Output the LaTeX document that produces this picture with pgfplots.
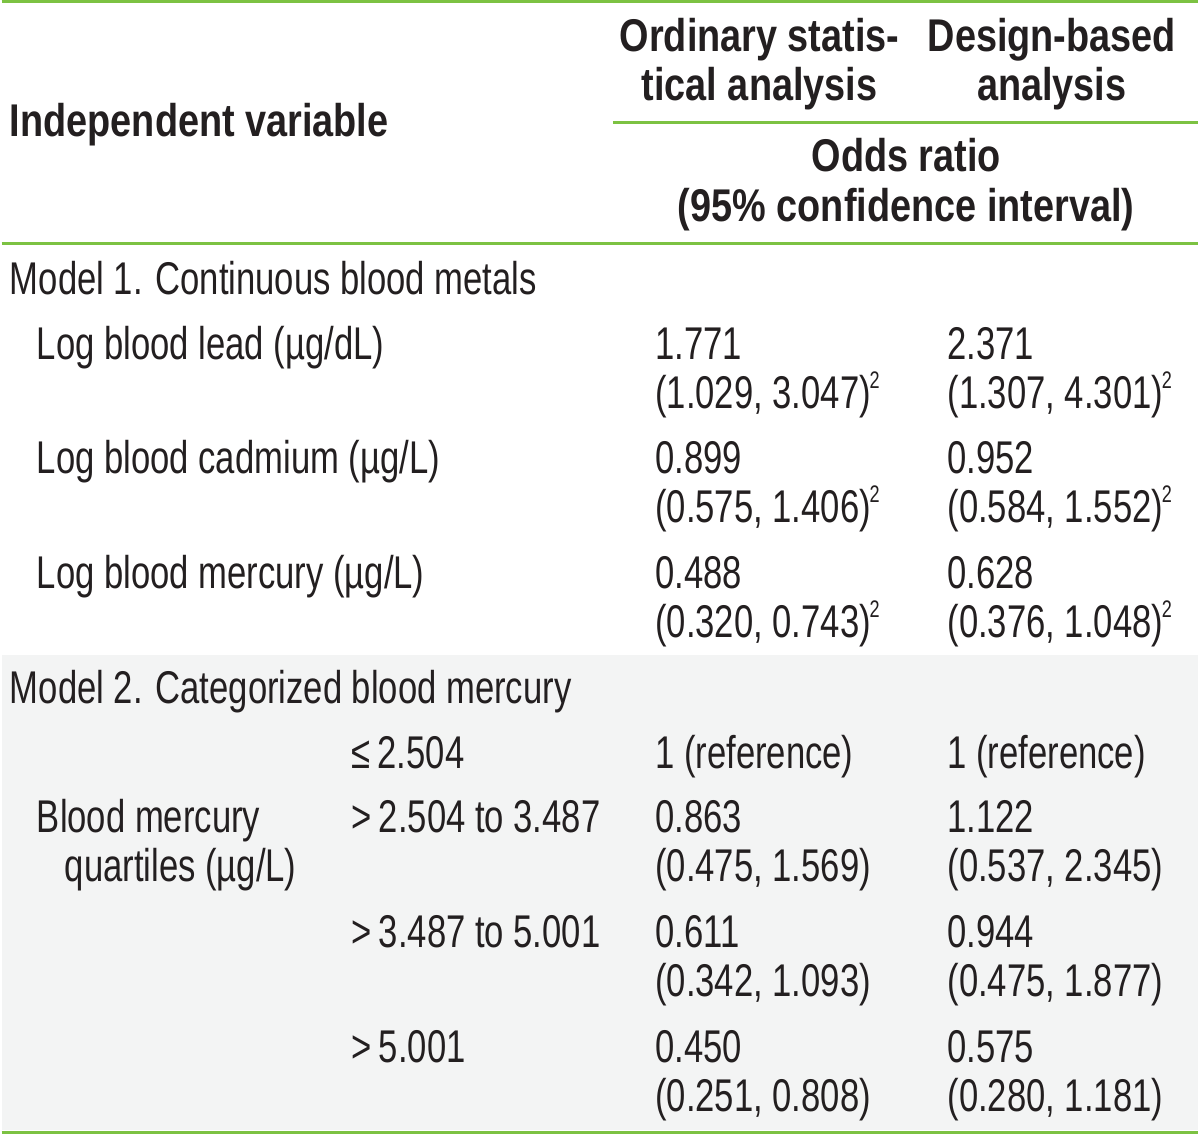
\documentclass[border=0pt]{standalone}
\usepackage{pgfplots}
\pgfplotsset{compat=1.18}
\usepackage{fontspec}
\setmainfont{Liberation Sans}[FakeStretch=0.755, BoldFeatures={FakeStretch=0.825}]
\definecolor{tgreen}{RGB}{124,194,66}
\definecolor{tgray}{RGB}{243,244,244}
\definecolor{ink}{RGB}{35,31,32}
\newcommand{\supt}{\kern-0.6pt\raisebox{0.82ex}{\fontsize{12}{12}\selectfont 2}}
\begin{document}
\begin{tikzpicture}
\begin{axis}[scale only axis, width=600pt, height=568.5pt,
  xmin=0, xmax=1200, ymin=0, ymax=1137, y dir=reverse,
  hide axis, clip=false]
\fill[white] (axis cs:0,0) rectangle (axis cs:1200,1137);
\fill[tgray] (axis cs:0,657) rectangle (axis cs:1200,1133);
\draw[tgreen, line width=1.6pt] (axis cs:0,1.5) -- (axis cs:1200,1.5);
\draw[tgreen, line width=1.3pt] (axis cs:613,122.5) -- (axis cs:1200,122.5);
\draw[tgreen, line width=1.3pt] (axis cs:0,244) -- (axis cs:1200,244);
\draw[tgreen, line width=1.6pt] (axis cs:0,1135) -- (axis cs:1200,1135);
\tikzset{
  L/.style={anchor=base west, inner sep=0pt, text=ink, font=\fontsize{23}{25}\selectfont},
  H/.style={anchor=base, inner sep=0pt, text=ink, font=\fontsize{23}{25}\selectfont\bfseries}}
% header
\node[H] at (axis cs:760,52) {Ordinary statis-};
\node[H] at (axis cs:760,101) {tical analysis};
\node[H] at (axis cs:1053,52) {Design-based};
\node[H] at (axis cs:1053,101) {analysis};
\node[H] at (axis cs:907,172) {Odds ratio};
\node[H] at (axis cs:907,222) {(95\% confidence interval)};
\node[H, anchor=base west] at (axis cs:8,137) {Independent variable};
% model 1
\node[L] at (axis cs:8,295) {Model 1. Continuous blood metals};
\node[L] at (axis cs:35,360) {Log blood lead (µg/dL)};
\node[L] at (axis cs:655,360) {1.771};
\node[L] at (axis cs:655,409) {(1.029, 3.047)\supt};
\node[L] at (axis cs:948,360) {2.371};
\node[L] at (axis cs:948,409) {(1.307, 4.301)\supt};
\node[L] at (axis cs:35,475) {Log blood cadmium (µg/L)};
\node[L] at (axis cs:655,475) {0.899};
\node[L] at (axis cs:655,524) {(0.575, 1.406)\supt};
\node[L] at (axis cs:948,475) {0.952};
\node[L] at (axis cs:948,524) {(0.584, 1.552)\supt};
\node[L] at (axis cs:35,590) {Log blood mercury (µg/L)};
\node[L] at (axis cs:655,590) {0.488};
\node[L] at (axis cs:655,639) {(0.320, 0.743)\supt};
\node[L] at (axis cs:948,590) {0.628};
\node[L] at (axis cs:948,639) {(0.376, 1.048)\supt};
% model 2
\node[L] at (axis cs:8,705) {Model 2. Categorized blood mercury};
\node[L] at (axis cs:350,770) {≤\,2.504};
\node[L] at (axis cs:655,770) {1 (reference)};
\node[L] at (axis cs:948,770) {1 (reference)};
\node[L] at (axis cs:35,835) {Blood mercury};
\node[L] at (axis cs:63,884) {quartiles (µg/L)};
\node[L] at (axis cs:350,835) {>\,2.504 to 3.487};
\node[L] at (axis cs:655,835) {0.863};
\node[L] at (axis cs:655,884) {(0.475, 1.569)};
\node[L] at (axis cs:948,835) {1.122};
\node[L] at (axis cs:948,884) {(0.537, 2.345)};
\node[L] at (axis cs:350,950) {>\,3.487 to 5.001};
\node[L] at (axis cs:655,950) {0.611};
\node[L] at (axis cs:655,999) {(0.342, 1.093)};
\node[L] at (axis cs:948,950) {0.944};
\node[L] at (axis cs:948,999) {(0.475, 1.877)};
\node[L] at (axis cs:350,1065) {>\,5.001};
\node[L] at (axis cs:655,1065) {0.450};
\node[L] at (axis cs:655,1114) {(0.251, 0.808)};
\node[L] at (axis cs:948,1065) {0.575};
\node[L] at (axis cs:948,1114) {(0.280, 1.181)};
\end{axis}
\end{tikzpicture}
\end{document}
